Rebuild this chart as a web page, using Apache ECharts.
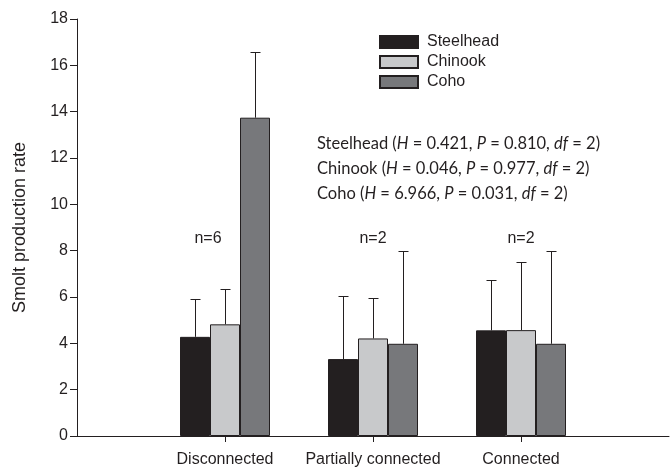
<!DOCTYPE html>
<html>
<head>
<meta charset="utf-8">
<script src="https://cdn.jsdelivr.net/npm/echarts@6/dist/echarts.min.js"></script>
<style>html,body{margin:0;padding:0;background:#fff;}#c{width:672px;height:470px;}</style>
</head>
<body>
<div id="c"></div>
<script>
// categories (empty slots at both ends for spacing)
const categories = ['', 'Disconnected', 'Partially connected', 'Connected', ''];
const seriesNames = ['Steelhead', 'Chinook', 'Coho'];
const steelhead = ['-', 4.28, 3.32, 4.56, '-'];
const chinook   = ['-', 4.82, 4.21, 4.57, '-'];
const coho      = ['-', 13.74, 3.98, 3.98, '-'];
const steelheadErr = [null, 1.62, 2.72, 2.18, null];
const chinookErr   = [null, 1.54, 1.74, 2.93, null];
const cohoErr      = [null, 2.84, 4.01, 4.01, null];
const nLabels = [null, 'n=6', 'n=2', 'n=2', null];
const nLabelY = 8.5;
const yTicks = [0, 2, 4, 6, 8, 10, 12, 14, 16, 18];
const statLines = [
  ['Steelhead', '0.421', '0.810', '2'],
  ['Chinook', '0.046', '0.977', '2'],
  ['Coho', '6.966', '0.031', '2']
];

const colors = ['#231f20', '#c8c9cb', '#77787b'];
const FONT = 'Liberation Sans';
const BAR_W = 30;
const values = [steelhead, chinook, coho];
const errs = [steelheadErr, chinookErr, cohoErr];

const chart = echarts.init(document.getElementById('c'));

const barSeries = seriesNames.map((name, i) => ({
  name: name,
  type: 'bar',
  data: values[i],
  barWidth: BAR_W,
  barGap: '0%',
  itemStyle: { color: colors[i], borderColor: '#231f20', borderWidth: 1 },
  z: 2
}));

const errSeries = seriesNames.map((name, i) => ({
  name: name + ' err',
  type: 'custom',
  z: 3,
  silent: true,
  data: values[i].map((v, k) => v === '-' ? null : [k, v, errs[i][k]]).filter(d => d),
  renderItem: function (params, api) {
    const k = api.value(0), v = api.value(1), e = api.value(2);
    const base = api.coord([k, v]);
    const top = api.coord([k, v + e]);
    const x = Math.round(base[0] + (i - 1) * BAR_W) + 0.5;
    const ty = Math.round(top[1]) + 0.5;
    return {
      type: 'group',
      children: [
        { type: 'line', shape: { x1: x, y1: base[1], x2: x, y2: ty }, style: { stroke: '#231f20', lineWidth: 1 } },
        { type: 'line', shape: { x1: x - 5, y1: ty, x2: x + 5, y2: ty }, style: { stroke: '#231f20', lineWidth: 1 } }
      ]
    };
  }
}));

const nSeries = {
  name: 'n',
  type: 'custom',
  z: 4,
  silent: true,
  data: nLabels.map((t, k) => t ? [k, nLabelY] : null).filter(d => d),
  renderItem: function (params, api) {
    const k = api.value(0);
    const p = api.coord([k, api.value(1)]);
    const dx = k === 1 ? -17 : 0;
    return {
      type: 'text',
      x: p[0] + dx, y: p[1],
      style: { text: nLabels[k], fill: '#231f20', fontFamily: FONT, fontSize: 16, align: 'center', verticalAlign: 'middle' }
    };
  }
};

const statText = statLines.map(s =>
  s[0] + ' ({i|H} = ' + s[1] + ', {i|P} = ' + s[2] + ', {i|df} = ' + s[3] + ')'
).join('\n');

chart.setOption({
  animation: false,
  textStyle: { fontFamily: FONT },
  grid: { left: 77, top: 19, right: 0, bottom: 34, containLabel: false },
  legend: {
    data: seriesNames,
    orient: 'vertical',
    left: 379, top: 34,
    itemWidth: 38, itemHeight: 12, itemGap: 4,
    icon: 'rect',
    textStyle: { fontFamily: FONT, fontSize: 16, lineHeight: 16, color: '#231f20', padding: [0, 0, 0, 4] },
    padding: 0
  },
  xAxis: {
    type: 'category',
    data: categories,
    boundaryGap: false,
    axisLine: { lineStyle: { color: '#231f20', width: 1 } },
    axisTick: { length: 6, lineStyle: { color: '#231f20' }, interval: function (idx) { return idx > 0 && idx < categories.length - 1; } },
    axisLabel: { color: '#231f20', fontFamily: FONT, fontSize: 16, margin: 16, interval: 0 },
    splitLine: { show: false }
  },
  yAxis: {
    type: 'value',
    min: yTicks[0], max: yTicks[yTicks.length - 1], interval: 2,
    name: 'Smolt production rate',
    nameLocation: 'middle',
    nameGap: 48,
    nameTextStyle: { color: '#231f20', fontFamily: FONT, fontSize: 18 },
    axisLine: { show: true, lineStyle: { color: '#231f20', width: 1 } },
    axisTick: { show: true, length: 7, lineStyle: { color: '#231f20' } },
    axisLabel: { color: '#231f20', fontFamily: FONT, fontSize: 16, margin: 9 },
    splitLine: { show: false }
  },
  graphic: [{
    type: 'text',
    left: 317, top: 131,
    style: {
      text: statText,
      fontFamily: 'Lato',
      fontSize: 16.5,
      fill: '#231f20',
      lineHeight: 25,
      rich: { i: { fontStyle: 'italic', fontFamily: 'Lato', fontSize: 16.5, fill: '#231f20', lineHeight: 25 } }
    }
  }],
  series: [...barSeries, ...errSeries, nSeries]
});
</script>
</body>
</html>
